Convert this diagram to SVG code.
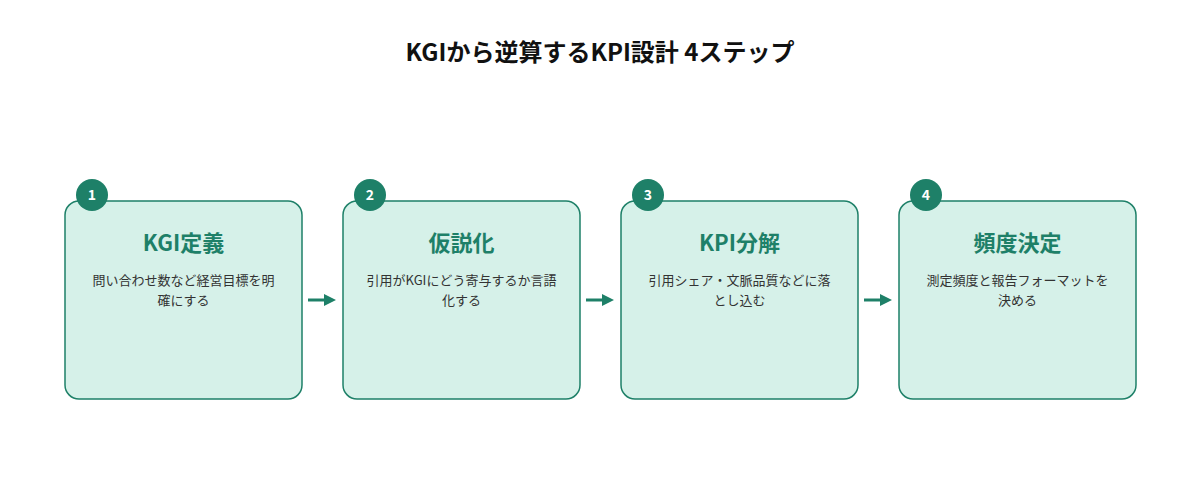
<svg xmlns="http://www.w3.org/2000/svg" width="1200" height="500" viewBox="0 0 1200 500">
<style>
text{font-family:"Noto Sans CJK JP","Noto Sans",sans-serif;text-anchor:middle}
.box{fill:#d6f1e9;stroke:#1e8068;stroke-width:1.5}
.num{fill:#1e8068}
.nt{fill:#fff;font-size:14px;font-weight:700}
.h{fill:#1e8068;font-size:22px;font-weight:700}
.d{fill:#333;font-size:13px}
.c{stroke:#1e8068;stroke-width:3;fill:none}
</style>
<defs><marker id="a" markerWidth="4" markerHeight="4" refX="2" refY="2" orient="auto"><path d="M0,0 L4,2 L0,4z" fill="#1e8068"/></marker></defs>
<rect width="1200" height="500" fill="#fff"/>
<text x="600" y="61" style="font-size:24px;font-weight:700;fill:#111">KGIから逆算するKPI設計 4ステップ</text>
<g id="n1"><rect class="box" x="65" y="201" width="237" height="198" rx="14"/><circle class="num" cx="92" cy="195" r="16"/><text class="nt" x="92" y="200">1</text><text class="h" x="183.5" y="251">KGI定義</text><text class="d" x="183.5" y="285">問い合わせ数など経営目標を明</text><text class="d" x="183.5" y="305">確にする</text></g>
<g id="n2"><rect class="box" x="343" y="201" width="237" height="198" rx="14"/><circle class="num" cx="370" cy="195" r="16"/><text class="nt" x="370" y="200">2</text><text class="h" x="461.5" y="251">仮説化</text><text class="d" x="461.5" y="285">引用がKGIにどう寄与するか言語</text><text class="d" x="461.5" y="305">化する</text></g>
<g id="n3"><rect class="box" x="621" y="201" width="237" height="198" rx="14"/><circle class="num" cx="648" cy="195" r="16"/><text class="nt" x="648" y="200">3</text><text class="h" x="739.5" y="251">KPI分解</text><text class="d" x="739.5" y="285">引用シェア・文脈品質などに落</text><text class="d" x="739.5" y="305">とし込む</text></g>
<g id="n4"><rect class="box" x="899" y="201" width="237" height="198" rx="14"/><circle class="num" cx="926" cy="195" r="16"/><text class="nt" x="926" y="200">4</text><text class="h" x="1017.5" y="251">頻度決定</text><text class="d" x="1017.5" y="285">測定頻度と報告フォーマットを</text><text class="d" x="1017.5" y="305">決める</text></g>
<g id="connectors">
<path class="c" d="M308,300 H330" marker-end="url(#a)"/>
<path class="c" d="M586,300 H608" marker-end="url(#a)"/>
<path class="c" d="M864,300 H886" marker-end="url(#a)"/>
</g>
</svg>
